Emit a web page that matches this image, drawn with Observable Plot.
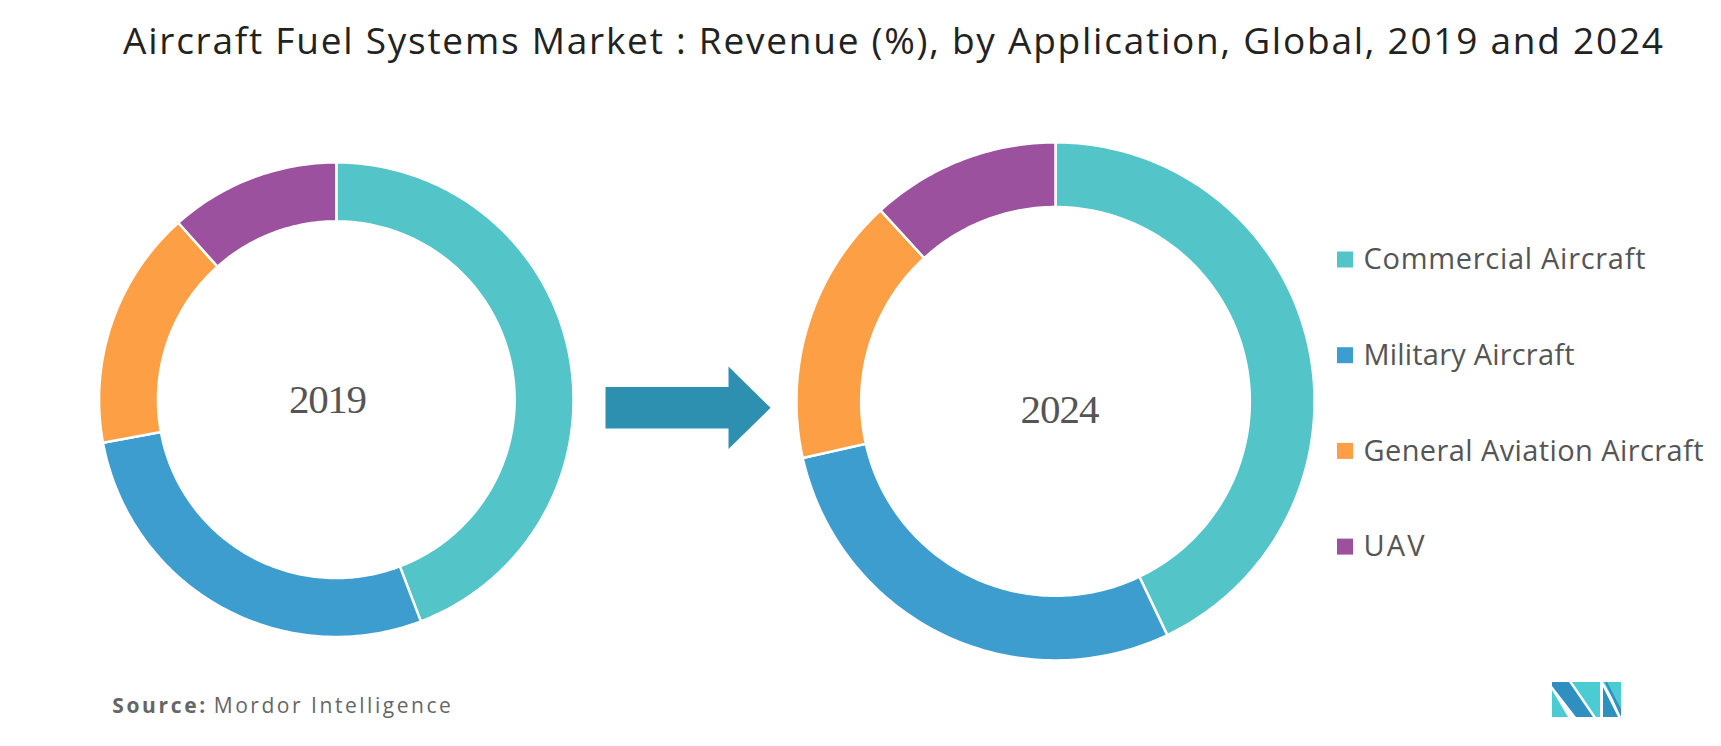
<!DOCTYPE html>
<html>
<head>
<meta charset="utf-8">
<script src="https://cdn.jsdelivr.net/npm/d3@7"></script>
<script src="https://cdn.jsdelivr.net/npm/@observablehq/plot@0.6"></script>
<style>
  html, body { margin: 0; padding: 0; background: #fff; }
  #page { position: relative; width: 1721px; height: 746px; overflow: hidden; }
  #title { height: 88px; box-sizing: border-box; padding-top: 20px; padding-left: 123px;
           font-family: "Open Sans", Lato, sans-serif; font-size: 37px; line-height: 40px;
           color: #222; white-space: nowrap; }
  #logo { position: absolute; left: 1552px; top: 682px; }
</style>
</head>
<body>
<div id="page">
  <div id="title"><span id="titleText">Aircraft Fuel Systems Market : Revenue (%), by Application, Global, 2019 and 2024</span></div>
  <div id="chart"></div>
  <svg id="logo" width="70" height="36" viewBox="0 0 70 36">
    <polygon points="0,0 17,0 41,35 24,35 0,4" fill="#2E8FC0"/>
    <polygon points="0,8 0,35 16,35" fill="#4ACCD2"/>
    <polygon points="20,0 48,0 48,35 44,35" fill="#4ACCD2"/>
    <polygon points="51,0 69,0 69,30" fill="#4ACCD2"/>
    <polygon points="51,5 66,35 51,35" fill="#2E8FC0"/>
    <polygon points="53,0 55,0 69,27 69,35" fill="#2E8FC0"/>
  </svg>
</div>
<script>
// ---------------- data ----------------
const categories = ["Commercial Aircraft", "Military Aircraft", "General Aviation Aircraft", "UAV"];
const years = ["2019", "2024"];
const share2019 = [44.2, 27.9, 16.3, 11.6];
const share2024 = [42.9, 28.6, 16.7, 11.8];
const colors = ["#53C4C8", "#3D9DCF", "#FD9F45", "#9C519E"];
const sourceLabel = "Source:";
const sourceName = "Mordor Intelligence";

// ---------------- layout ----------------
const W = 1721, H = 746, TOP = 88;
const donuts = [
  {year: years[0], values: share2019, cx: 335.8, cy: 399.2, R: 236, r: 179.6, lx: 327.5, ly: 399.2},
  {year: years[1], values: share2024, cx: 1055, cy: 400.9, R: 257.8, r: 195.6, lx: 1059.5, ly: 409.3}
];
const gap = 1.25; // half of white separator stroke

// build slice outlines from the shares
const slices = [];
for (const d of donuts) {
  const total = d3.sum(d.values);
  let acc = 0;
  d.values.forEach((v, i) => {
    const a0 = acc / total * 2 * Math.PI;
    acc += v;
    const a1 = acc / total * 2 * Math.PI;
    const n = Math.max(4, Math.ceil((a1 - a0) * 180 / Math.PI));
    const pts = [];
    for (let k = 0; k <= n; k++) {
      const a = a0 + (a1 - a0) * k / n;
      pts.push([d.cx + (d.R + gap) * Math.sin(a), d.cy - (d.R + gap) * Math.cos(a)]);
    }
    for (let k = n; k >= 0; k--) {
      const a = a0 + (a1 - a0) * k / n;
      pts.push([d.cx + (d.r - gap) * Math.sin(a), d.cy - (d.r - gap) * Math.cos(a)]);
    }
    pts.forEach(([x, y], j) => slices.push({year: d.year, category: categories[i], key: d.year + "|" + categories[i], x, y, j}));
  });
}

// arrow between the two donuts
const arrowSpec = {x0: 605, x1: 728, tip: 770, cy: 407.3, shaft: 20.8, head: 41.2};
const arrow = [
  [arrowSpec.x0, arrowSpec.cy - arrowSpec.shaft],
  [arrowSpec.x1, arrowSpec.cy - arrowSpec.shaft],
  [arrowSpec.x1, arrowSpec.cy - arrowSpec.head],
  [arrowSpec.tip, arrowSpec.cy],
  [arrowSpec.x1, arrowSpec.cy + arrowSpec.head],
  [arrowSpec.x1, arrowSpec.cy + arrowSpec.shaft],
  [arrowSpec.x0, arrowSpec.cy + arrowSpec.shaft]
].map(([x, y]) => ({x, y}));

// legend
const legendX = 1337, legendY0 = 259.5, legendStep = 95.7, sw = 16;
const legend = categories.map((c, i) => ({category: c, y: legendY0 + i * legendStep}));

const chart = Plot.plot({
  width: W,
  height: H - TOP,
  margin: 0,
  x: {domain: [0, W], range: [0, W], axis: null},
  y: {domain: [TOP, H], range: [0, H - TOP], axis: null},
  color: {domain: categories, range: colors},
  style: {background: "transparent"},
  marks: [
    Plot.line(slices, {x: "x", y: "y", z: "key", fill: "category", stroke: "white", strokeWidth: 2.5, curve: "linear-closed"}),
    Plot.line(arrow, {x: "x", y: "y", fill: "#2E90B0", stroke: "none", curve: "linear-closed"}),
    Plot.text(donuts, {x: "lx", y: "ly", text: "year", fontFamily: "Liberation Serif", fontSize: 41, fill: "#555", lineAnchor: "middle"}),
    Plot.rect(legend, {x1: legendX, x2: legendX + sw, y1: d => d.y - sw / 2, y2: d => d.y + sw / 2, fill: "category"}),
    Plot.text(legend, {x: legendX + 26, y: "y", text: "category", textAnchor: "start", fontFamily: "Open Sans", fontSize: 29, fill: "#555", lineAnchor: "middle"}),
    Plot.text([sourceLabel], {x: 111.7, y: 712, text: d => d, textAnchor: "start", lineAnchor: "bottom", fontFamily: "Open Sans", fontWeight: "bold", fontSize: 21, fill: "#666"}),
    Plot.text([sourceName], {x: 213.3, y: 712, text: d => d, textAnchor: "start", lineAnchor: "bottom", fontFamily: "Open Sans", fontSize: 21, fill: "#666"})
  ]
});
document.getElementById("chart").appendChild(chart);

// fit text widths to the reference's measured widths
const targetWidth = {
  "Commercial Aircraft": 282, "Military Aircraft": 211, "General Aviation Aircraft": 340, "UAV": 61,
  "Source:": 93, "Mordor Intelligence": 237, "2019": 78, "2024": 79
};
chart.querySelectorAll("text").forEach(t => {
  const w = targetWidth[t.textContent];
  if (w) { t.setAttribute("textLength", w); t.setAttribute("lengthAdjust", "spacing"); }
});
const tt = document.getElementById("titleText");
const tw = tt.getBoundingClientRect().width;
const txt = tt.textContent;
tt.style.letterSpacing = ((1540 - tw) / (txt.length - 1)) + "px";
</script>
</body>
</html>
